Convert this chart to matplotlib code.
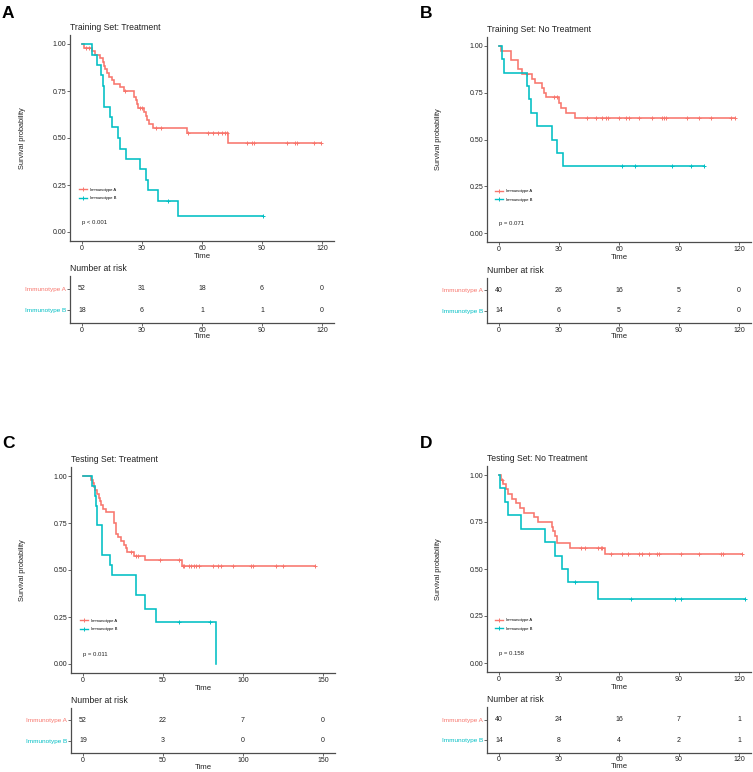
import numpy as np
import matplotlib
matplotlib.use('Agg')
import matplotlib.pyplot as plt
from matplotlib.lines import Line2D

plt.rcParams['font.family'] = ['Liberation Sans', 'DejaVu Sans']

# ---------------- data ----------------
groups = ['Immunotype A', 'Immunotype B']

# Panel A: Training Set: Treatment
a_A_t = [0, 1, 4.8, 6.5, 9, 10.3, 11, 11.6, 12.3, 13.3, 14.8, 16, 19, 21, 26.2, 27, 27.3, 28.2, 31.2, 31.8, 32.3, 33.7, 35.7, 52.3, 73.2]
a_A_s = [1, 0.981, 0.962, 0.942, 0.923, 0.904, 0.885, 0.865, 0.846, 0.827, 0.808, 0.788, 0.769, 0.749, 0.72, 0.70, 0.68, 0.661, 0.638, 0.616, 0.594, 0.573, 0.553, 0.527, 0.474]
a_A_c = [2, 3.7, 21.5, 29, 29.8, 37, 39.5, 53.2, 63.2, 65.3, 68.2, 69.8, 71.5, 72.3, 82.3, 85.2, 86, 102.3, 106.3, 107.3, 116.2, 119.5]
a_B_t = [0, 5, 7.5, 9.5, 10.5, 11.2, 14, 15.2, 18, 19, 22, 29, 32, 33.2, 38.2, 48.2]
a_B_s = [1, 0.944, 0.889, 0.833, 0.778, 0.667, 0.611, 0.556, 0.5, 0.444, 0.389, 0.333, 0.278, 0.222, 0.167, 0.083]
a_B_c = [43, 90.3]
a_risk_times = [0, 30, 60, 90, 120]
a_risk_A = [52, 31, 18, 6, 0]
a_risk_B = [18, 6, 1, 1, 0]

# Panel B: Training Set: No Treatment
b_A_t = [0, 1, 5.8, 9.7, 11.7, 16.7, 17.8, 21.7, 22.5, 23.3, 30, 30.8, 33.7, 37.8]
b_A_s = [1, 0.975, 0.925, 0.875, 0.85, 0.825, 0.80, 0.775, 0.75, 0.725, 0.697, 0.669, 0.641, 0.613]
b_A_c = [14.2, 27.5, 29.2, 44.2, 48.3, 51.7, 53.3, 54.5, 60, 63.3, 65, 70, 76.7, 81.7, 82.5, 83.3, 94.2, 100, 105.8, 115.8, 118]
b_B_t = [0, 1.7, 2.7, 13.8, 15, 15.8, 18.8, 26.7, 28.8, 32.2]
b_B_s = [1, 0.929, 0.857, 0.786, 0.714, 0.643, 0.571, 0.5, 0.429, 0.357]
b_B_c = [61.7, 68, 86.7, 95.8, 102.3]
b_risk_times = [0, 30, 60, 90, 120]
b_risk_A = [40, 26, 16, 5, 0]
b_risk_B = [14, 6, 5, 2, 0]

# Panel C: Testing Set: Treatment
c_A_t = [0, 5.2, 6.2, 6.9, 7.7, 8.5, 10, 10.8, 11.5, 12.5, 14.5, 19.4, 20.4, 21.9, 24, 25.6, 26.7, 27.5, 31.9, 38.5, 61.9]
c_A_s = [1, 0.981, 0.962, 0.942, 0.923, 0.904, 0.885, 0.865, 0.846, 0.827, 0.808, 0.75, 0.692, 0.673, 0.654, 0.635, 0.615, 0.596, 0.575, 0.553, 0.522]
c_A_c = [30.2, 33.3, 34.4, 48.3, 59.8, 62.5, 63.1, 66.2, 67.7, 69.4, 70.8, 72.5, 81.2, 84.4, 86.5, 93.7, 105.2, 106.2, 120.8, 125, 144.8]
c_B_t = [0, 5.8, 7.3, 8.3, 9, 11.9, 16.7, 17.9, 32.9, 39, 45.8, 83.3]
c_B_s = [1, 0.947, 0.895, 0.842, 0.737, 0.579, 0.526, 0.474, 0.368, 0.295, 0.221, 0.0]
c_B_c = [60, 79.2]
c_risk_times = [0, 50, 100, 150]
c_risk_A = [52, 22, 7, 0]
c_risk_B = [19, 3, 0, 0]

# Panel D: Testing Set: No Treatment
d_A_t = [0, 1, 2.2, 3.3, 4.5, 6.7, 8.7, 10.3, 12.5, 17.5, 19.7, 26.3, 27, 27.8, 28.8, 35.5, 53]
d_A_s = [1, 0.975, 0.95, 0.925, 0.9, 0.875, 0.85, 0.825, 0.8, 0.775, 0.75, 0.725, 0.7, 0.675, 0.639, 0.613, 0.58]
d_A_c = [1.3, 40.8, 42.8, 49.7, 50.8, 51.7, 55.8, 61.7, 64.7, 70, 71.7, 75, 78.8, 80, 90.8, 100, 110.8, 112.2, 121.7]
d_B_t = [0, 0.3, 2.8, 4.7, 10.8, 23, 27.8, 31.7, 34.7, 49.7]
d_B_s = [1, 0.929, 0.857, 0.786, 0.714, 0.643, 0.571, 0.5, 0.429, 0.343]
d_B_c = [37.8, 65.8, 88, 90.8, 123]
d_risk_times = [0, 30, 60, 90, 120]
d_risk_A = [40, 24, 16, 7, 1]
d_risk_B = [14, 8, 4, 2, 1]

titles = ['Training Set: Treatment', 'Training Set: No Treatment',
          'Testing Set: Treatment', 'Testing Set: No Treatment']
pvals = ['p < 0.001', 'p = 0.071', 'p = 0.011', 'p = 0.158']
letters = ['A', 'B', 'C', 'D']

# ---------------- style ----------------
W, H = 753, 772
RED = '#F8766D'
TEAL = '#00BFC4'
AXC = '#4d4d4d'
TXT = '#222222'

fig = plt.figure(figsize=(W / 100, H / 100), dpi=100)


def add_ax(x0, y0, x1, y1):
    return fig.add_axes([x0 / W, 1 - y1 / H, (x1 - x0) / W, (y1 - y0) / H])


def style(ax):
    for s in ['top', 'right']:
        ax.spines[s].set_visible(False)
    for s in ['left', 'bottom']:
        ax.spines[s].set_color(AXC)
        ax.spines[s].set_linewidth(0.9)
    ax.tick_params(direction='out', length=2.0, width=0.6, color=AXC,
                   labelsize=5.0, labelcolor=TXT, pad=0.8)


def km(ax, t, s, c, color):
    t = np.asarray(t, float)
    s = np.asarray(s, float)
    c = np.asarray(c, float)
    end = max(t.max(), c.max() if c.size else 0)
    tt = np.append(t, end)
    ss = np.append(s, s[-1])
    ax.step(tt, ss, where='post', color=color, lw=1.15, solid_joinstyle='miter')
    if c.size:
        idx = np.searchsorted(t, c, side='right') - 1
        ax.plot(c, s[idx], ls='none', marker='+', ms=3.2, mew=0.7, color=color)


def panel(px, curves, xmax, xticks, title, letter, letter_xy, pval,
          leg_xy, risk_py, risk_times, riskA, riskB, ylab_x):
    x0, x1, y0, y1 = px
    xmin = -0.05 * xmax
    xlim = (xmin, xmax * 1.05)
    ax = add_ax(x0, y0, x1, y1)
    style(ax)
    for (t, s, c, col) in curves:
        km(ax, t, s, c, col)
    ax.set_xlim(*xlim)
    ax.set_ylim(-0.05, 1.05)
    ax.set_xticks(xticks)
    ax.set_yticks([0, 0.25, 0.5, 0.75, 1.0])
    ax.set_yticklabels(['0.00', '0.25', '0.50', '0.75', '1.00'])
    ax.text(0, 0.05, pval, fontsize=4.3, color=TXT, ha='left', va='center')
    handles = [Line2D([], [], color=RED, lw=1.0, marker='+', ms=3, mew=0.7),
               Line2D([], [], color=TEAL, lw=1.0, marker='+', ms=3, mew=0.7)]
    ax.legend(handles, groups, loc='center left', bbox_to_anchor=leg_xy,
              frameon=False, fontsize=3.0, handlelength=1.9, handletextpad=0.7,
              labelspacing=1.1, borderpad=0, borderaxespad=0)
    cx = (x0 + x1) / 2
    fig.text(cx / W, 1 - (y1 + 15.0) / H, 'Time', fontsize=5.6, color=TXT,
             ha='center', va='center')
    fig.text(x0 / W, 1 - (y0 - 7.5) / H, title, fontsize=6.2, color=TXT,
             ha='left', va='center')
    fig.text(ylab_x / W, 1 - ((y0 + y1) / 2) / H, 'Survival probability',
             fontsize=5.3, color=TXT, rotation=90, ha='center', va='center')
    fig.text(letter_xy[0] / W, 1 - letter_xy[1] / H, letter, fontsize=12.5,
             fontweight='bold', color='black', ha='left', va='center')

    # risk table
    r0, r1 = risk_py
    rax = add_ax(x0, r0, x1, r1)
    style(rax)
    rax.set_xlim(*xlim)
    rax.set_ylim(0.4, 2.6)
    rax.set_xticks(xticks)
    rax.set_yticks([1, 2])
    rax.set_yticklabels([groups[1], groups[0]], fontsize=4.6)
    rax.get_yticklabels()[0].set_color(TEAL)
    rax.get_yticklabels()[1].set_color(RED)
    for tx, na, nb in zip(risk_times, riskA, riskB):
        rax.text(tx, 2, str(na), fontsize=5.0, color=TXT, ha='center', va='center')
        rax.text(tx, 1, str(nb), fontsize=5.0, color=TXT, ha='center', va='center')
    fig.text(x0 / W, 1 - (r0 - 7.5) / H, 'Number at risk', fontsize=6.2,
             color=TXT, ha='left', va='center')
    fig.text(cx / W, 1 - (r1 + 14.0) / H, 'Time', fontsize=5.6, color=TXT,
             ha='center', va='center')


panel((70, 334, 34.6, 241.4),
      [(a_A_t, a_A_s, a_A_c, RED), (a_B_t, a_B_s, a_B_c, TEAL)],
      120, [0, 30, 60, 90, 120], titles[0], letters[0], (2, 14), pvals[0],
      (0.034, 0.229), (276.3, 322.7), a_risk_times, a_risk_A, a_risk_B, 23)

panel((487, 751, 36.6, 242.4),
      [(b_A_t, b_A_s, b_A_c, RED), (b_B_t, b_B_s, b_B_c, TEAL)],
      120, [0, 30, 60, 90, 120], titles[1], letters[1], (420, 13), pvals[1],
      (0.03, 0.228), (278.3, 322.7), b_risk_times, b_risk_A, b_risk_B, 438)

panel((71, 335, 466.6, 673.4),
      [(c_A_t, c_A_s, c_A_c, RED), (c_B_t, c_B_s, c_B_c, TEAL)],
      150, [0, 50, 100, 150], titles[2], letters[2], (2, 443), pvals[2],
      (0.034, 0.234), (708.1, 753.3), c_risk_times, c_risk_A, c_risk_B, 23)

panel((487, 751, 465.6, 672.4),
      [(d_A_t, d_A_s, d_A_c, RED), (d_B_t, d_B_s, d_B_c, TEAL)],
      120, [0, 30, 60, 90, 120], titles[3], letters[3], (420, 443), pvals[3],
      (0.03, 0.231), (707.4, 752.6), d_risk_times, d_risk_A, d_risk_B, 438)

fig.savefig('out.png', dpi=100, facecolor='white')
